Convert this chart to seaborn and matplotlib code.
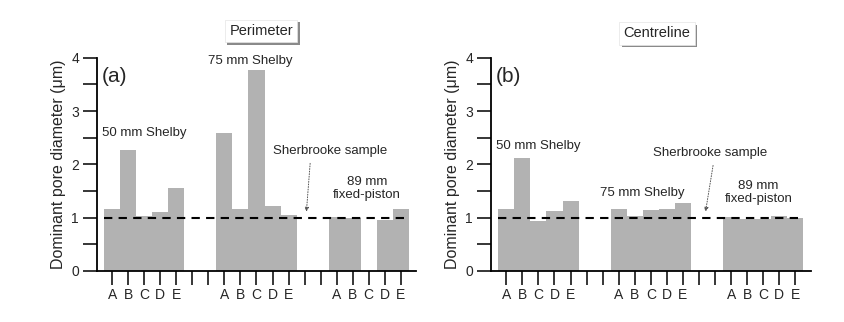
import numpy as np
import pandas as pd
import matplotlib.pyplot as plt
import seaborn as sns
from matplotlib import patheffects as pe
from matplotlib.ticker import MultipleLocator

# Data (dominant pore diameter, um)
letters = ["A", "B", "C", "D", "E"]
groups = ["50", "75", "89"]
perimeter_50 = [1.16, 2.27, 1.03, 1.11, 1.56]
perimeter_75 = [2.59, 1.16, 3.77, 1.21, 1.05]
perimeter_89 = [1.01, 1.00, np.nan, 0.95, 1.16]
centreline_50 = [1.17, 2.12, 0.93, 1.13, 1.31]
centreline_75 = [1.17, 1.04, 1.15, 1.17, 1.28]
centreline_89 = [1.02, 0.98, 0.98, 1.03, 0.99]
sherbrooke = 1.0

# slot order on the x axis: 5 samples per tube, two empty slots between tubes
slots = []
slot_labels = []
for i, g in enumerate(groups):
    for l in letters:
        slots.append(g + l)
        slot_labels.append(l)
    if i < len(groups) - 1:
        slots += [g + "_gap1", g + "_gap2"]
        slot_labels += ["", ""]


def make_df(v50, v75, v89):
    rows = []
    for g, vals in zip(groups, [v50, v75, v89]):
        for l, v in zip(letters, vals):
            rows.append({"slot": g + l, "value": v})
    return pd.DataFrame(rows)


sns.set_style("ticks")
plt.rcParams['font.family'] = ['Liberation Sans', 'DejaVu Sans']

fig = plt.figure(figsize=(8.45, 3.22), dpi=100)
ax_a = fig.add_axes([0.1148, 0.1584, 0.3775, 0.6624])
ax_b = fig.add_axes([0.5811, 0.1584, 0.3783, 0.6624])

panels = [
    (ax_a, make_df(perimeter_50, perimeter_75, perimeter_89), "(a)"),
    (ax_b, make_df(centreline_50, centreline_75, centreline_89), "(b)"),
]

for ax, df, tag in panels:
    sns.barplot(data=df, x="slot", y="value", order=slots, color="#b2b2b2",
                saturation=1, width=1.0, linewidth=0, errorbar=None, ax=ax)
    ax.hlines(sherbrooke, -0.5, len(slots) - 0.5, colors="black",
              linestyles=(0, (4, 3)), linewidth=1.5, zorder=3)
    ax.set_xlim(-0.95, len(slots) - 0.05)
    ax.set_ylim(0, 4)
    ax.set_xticks(range(len(slots)))
    ax.set_xticklabels(slot_labels, fontsize=10)
    ax.yaxis.set_major_locator(MultipleLocator(1))
    ax.yaxis.set_minor_locator(MultipleLocator(0.5))
    ax.tick_params(axis="x", length=10, width=1.3, pad=2)
    ax.tick_params(axis="y", which="both", length=10, width=1.3, labelsize=10, pad=3)
    ax.set_xlabel("")
    ax.set_ylabel("Dominant pore diameter (\u03bcm)", fontsize=11.5, labelpad=4)
    for s in ["top", "right"]:
        ax.spines[s].set_visible(False)
    for s in ["left", "bottom"]:
        ax.spines[s].set_linewidth(1.3)
        ax.spines[s].set_color("black")
    ax.text(0.015, 0.955, tag, transform=ax.transAxes, fontsize=15,
            ha="left", va="top")

txt = dict(fontsize=9.5, ha="center", va="center")
# panel (a) annotations
ax_a.text(2.0, 2.59, "50 mm Shelby", **txt)
ax_a.text(8.6, 3.94, "75 mm Shelby", clip_on=False, **txt)
ax_a.text(13.6, 2.25, "Sherbrooke sample", **txt)
ax_a.text(15.9, 1.54, "89 mm\nfixed-piston", linespacing=1.1, **txt)
ax_a.annotate("", xy=(12.1, 1.06), xytext=(12.36, 2.07),
              arrowprops=dict(arrowstyle="-|>", linestyle=":", lw=0.7,
                              color="#555555", mutation_scale=6))
# panel (b) annotations
ax_b.text(2.0, 2.35, "50 mm Shelby", **txt)
ax_b.text(8.47, 1.47, "75 mm Shelby", **txt)
ax_b.text(12.7, 2.21, "Sherbrooke sample", **txt)
ax_b.text(15.7, 1.48, "89 mm\nfixed-piston", linespacing=1.1, **txt)
ax_b.annotate("", xy=(12.375, 1.06), xytext=(12.9, 2.03),
              arrowprops=dict(arrowstyle="-|>", linestyle=":", lw=0.7,
                              color="#555555", mutation_scale=6))

# boxed panel titles with a drop shadow
for x, y, label in [(0.309, 0.904, "Perimeter"), (0.7775, 0.896, "Centreline")]:
    t = fig.text(x, y, label, fontsize=10.5, ha="center", va="center",
                 bbox=dict(boxstyle="square,pad=0.3", fc="white",
                           ec="#e4e4e4", lw=0.5))
    t.get_bbox_patch().set_path_effects([
        pe.SimplePatchShadow(offset=(1.8, -1.8), shadow_rgbFace="#8a8a8a", alpha=1),
        pe.Normal()])

fig.savefig("out.png", dpi=100)
